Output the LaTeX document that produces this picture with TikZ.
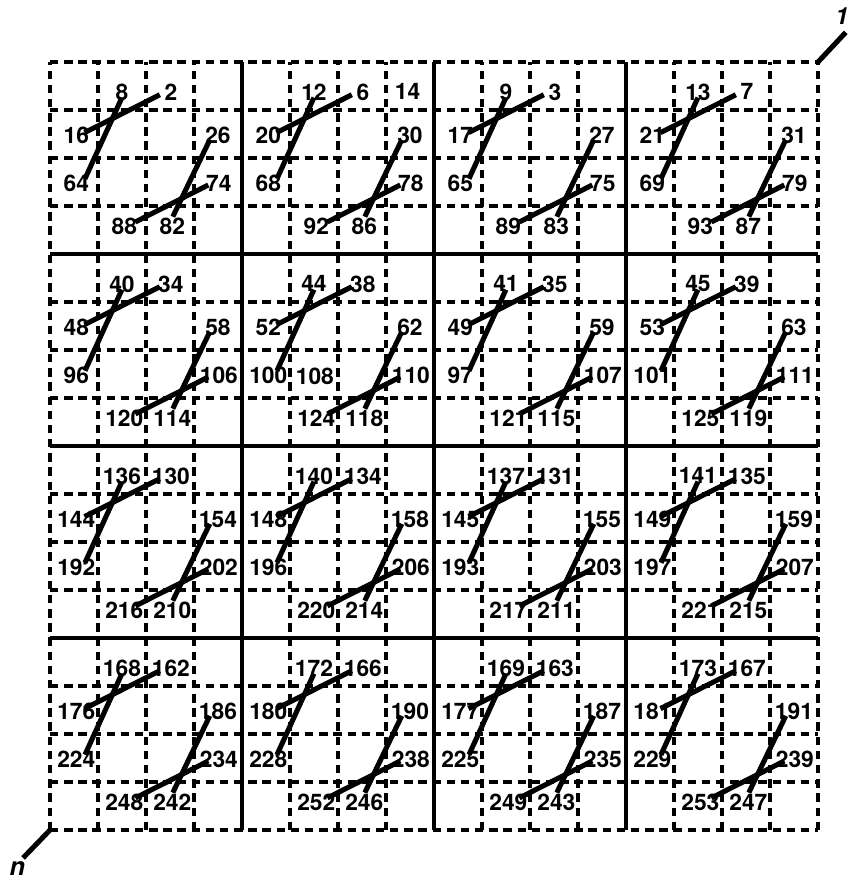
\documentclass[tikz,border=0pt]{standalone}
\usepackage{fontspec}
\setmainfont{TeX Gyre Heros}
\usetikzlibrary{positioning}

\begin{document}
\begin{tikzpicture}[
  gridline/.style={line width=2.3pt,dash pattern=on 5pt off 3.4pt},
  blockline/.style={line width=2.5pt},
  cross/.style={line width=3pt},
  num/.style={inner sep=0pt,font=\fontsize{13.5}{15}\selectfont\bfseries}]
\useasboundingbox (0,0) rectangle (17.708,18.354);
\begin{scope}[shift={(1.04,1.06)}]
% dashed cells
\foreach \i in {0,...,16} {
  \draw[gridline] (\i,0) -- (\i,16);
  \draw[gridline] (0,\i) -- (16,\i);
}
% block borders
\foreach \i in {4,8,12} {
  \draw[blockline] (\i,0) -- (\i,16);
  \draw[blockline] (0,\i) -- (16,\i);
}

% the sixteen blocks
\foreach \r/\c/\la/\lb/\lc/\ld/\le/\lf/\lg/\lh in {
  0/0/8/2/16/64/26/74/88/82, 0/1/12/6/20/68/30/78/92/86,
  0/2/9/3/17/65/27/75/89/83, 0/3/13/7/21/69/31/79/93/87,
  1/0/40/34/48/96/58/106/120/114, 1/1/44/38/52/100/62/110/124/118,
  1/2/41/35/49/97/59/107/121/115, 1/3/45/39/53/101/63/111/125/119,
  2/0/136/130/144/192/154/202/216/210, 2/1/140/134/148/196/158/206/220/214,
  2/2/137/131/145/193/155/203/217/211, 2/3/141/135/149/197/159/207/221/215,
  3/0/168/162/176/224/186/234/248/242, 3/1/172/166/180/228/190/238/252/246,
  3/2/169/163/177/225/187/235/249/243, 3/3/173/167/181/229/191/239/253/247} {
\begin{scope}[shift={(4*\c,16-4*\r)}]
  \node[num] (t\r\c) at (1.5,-0.62) {\la};
  \node[num] (u\r\c) at (2.52,-0.62) {\lb};
  \node[num] (v\r\c) at (0.55,-1.52) {\lc};
  \node[num] (w\r\c) at (0.55,-2.52) {\ld};
  \node[num] (x\r\c) at (3.5,-1.52) {\le};
  \node[num] (y\r\c) at (3.52,-2.52) {\lf};
  \node[num] (z\r\c) at (1.55,-3.42) {\lg};
  \node[num] (q\r\c) at (2.55,-3.42) {\lh};
  \coordinate (pa\r\c) at (0.72,-1.47);
  \coordinate (pb\r\c) at (2.29,-0.68);
  \coordinate (pc\r\c) at (0.73,-2.43);
  \coordinate (pd\r\c) at (1.5,-0.74);
  \coordinate (pe\r\c) at (1.78,-3.33);
  \coordinate (pf\r\c) at (3.3,-2.56);
  \coordinate (pg\r\c) at (2.56,-3.22);
  \coordinate (ph\r\c) at (3.33,-1.62);
  \draw[cross] (pa\r\c) -- (pb\r\c);
  \draw[cross] (pc\r\c) -- (pd\r\c);
  \draw[cross] (pe\r\c) -- (pf\r\c);
  \draw[cross] (pg\r\c) -- (ph\r\c);
\end{scope}
}
% two extra labels
\node[num] (extra1) at (7.45,15.38) {14};
\node[num] (extra2) at (5.52,9.46) {108};

% corner marks
\coordinate (top) at (16,16);
\coordinate (bot) at (0,0);
\coordinate (topend) at (16.58,16.62);
\coordinate (botend) at (-0.56,-0.58);
\draw[cross] (top) -- (topend);
\draw[cross] (bot) -- (botend);
\node[font=\fontsize{14}{14}\selectfont\bfseries\itshape\rmfamily] (one) at (16.5,16.95) {1};
\node[font=\fontsize{15}{15}\selectfont\bfseries\itshape\rmfamily] (enn) at (-0.68,-0.8) {n};
\end{scope}
\end{tikzpicture}
\end{document}
